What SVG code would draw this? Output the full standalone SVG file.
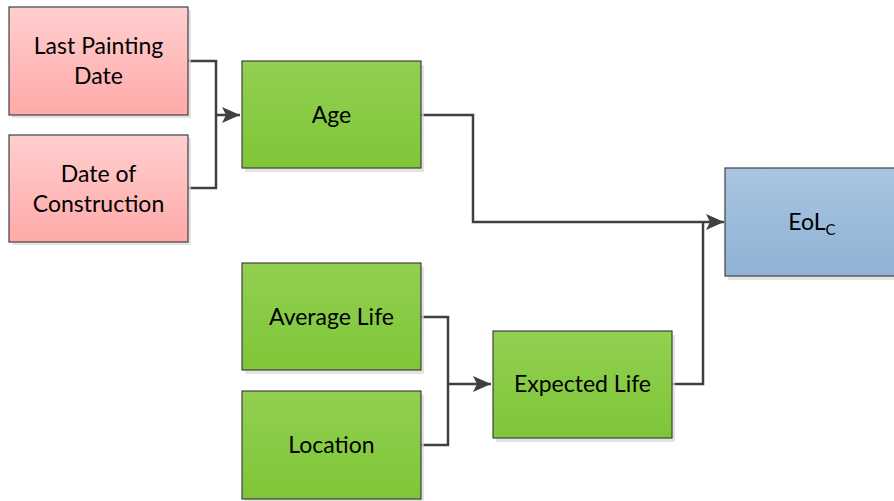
<svg xmlns="http://www.w3.org/2000/svg" width="894" height="501" viewBox="0 0 894 501">
<defs>
<linearGradient id="gPink" x1="0" y1="0" x2="0" y2="1"><stop offset="0" stop-color="#ffcfcf"/><stop offset="1" stop-color="#ffa9a9"/></linearGradient>
<linearGradient id="gGreen" x1="0" y1="0" x2="0" y2="1"><stop offset="0" stop-color="#92d050"/><stop offset="1" stop-color="#7ec638"/></linearGradient>
<linearGradient id="gBlue" x1="0" y1="0" x2="0" y2="1"><stop offset="0" stop-color="#a9c5e1"/><stop offset="1" stop-color="#8fb2d5"/></linearGradient>
<marker id="arr" viewBox="0 0 18 16" refX="18" refY="8" markerWidth="18" markerHeight="16" markerUnits="userSpaceOnUse" orient="auto"><path d="M0,0 L18,8 L0,16 L4,8 Z" fill="#404040"/></marker>
</defs>
<style>
.box{stroke:#404040;stroke-width:1.2}
.shadow{fill:#d9d9d9;opacity:0.7}
.pink{fill:url(#gPink)}
.green{fill:url(#gGreen)}
.blue{fill:url(#gBlue)}
text{font-family:Lato,"Liberation Sans",sans-serif;font-size:23px;fill:#000;text-anchor:middle}
.conn{fill:none;stroke:#404040;stroke-width:2.5}
</style>
<g id="connectors">
<path class="conn" d="M188,61 H216 V188 H188"/>
<path class="conn" d="M216,115 H240" marker-end="url(#arr)"/>
<path class="conn" d="M420,115 H473 V222 H724" marker-end="url(#arr)"/>
<path class="conn" d="M421,317 H448 V445 H421"/>
<path class="conn" d="M448,384 H491" marker-end="url(#arr)"/>
<path class="conn" d="M672,384 H703 V222"/>
</g>
<g id="last-painting-date">
<rect class="shadow" x="12" y="10" width="179" height="108"/>
<rect class="box pink" x="9" y="7" width="179" height="108"/>
<text x="98.5" y="54">Last Painting</text>
<text x="98.5" y="84">Date</text>
</g>
<g id="date-of-construction">
<rect class="shadow" x="12" y="138" width="179" height="107"/>
<rect class="box pink" x="9" y="135" width="179" height="107"/>
<text x="98.5" y="182">Date of</text>
<text x="98.5" y="212">Construction</text>
</g>
<g id="age">
<rect class="shadow" x="245" y="65" width="179" height="107"/>
<rect class="box green" x="242" y="61" width="179" height="107"/>
<text x="331.5" y="123">Age</text>
</g>
<g id="average-life">
<rect class="shadow" x="245" y="267" width="179" height="107"/>
<rect class="box green" x="242" y="263" width="179" height="107"/>
<text x="331.5" y="325">Average Life</text>
</g>
<g id="location">
<rect class="shadow" x="245" y="395" width="179" height="107"/>
<rect class="box green" x="242" y="391" width="179" height="108"/>
<text x="331.5" y="453">Location</text>
</g>
<g id="expected-life">
<rect class="shadow" x="496" y="335" width="179" height="107"/>
<rect class="box green" x="493" y="331" width="179" height="107"/>
<text x="582.5" y="392">Expected Life</text>
</g>
<g id="eol-c">
<rect class="shadow" x="728" y="172" width="180" height="108"/>
<rect class="box blue" x="725" y="168" width="180" height="108"/>
<text x="812" y="230">EoL<tspan font-size="15" dy="5">C</tspan></text>
</g>
</svg>
